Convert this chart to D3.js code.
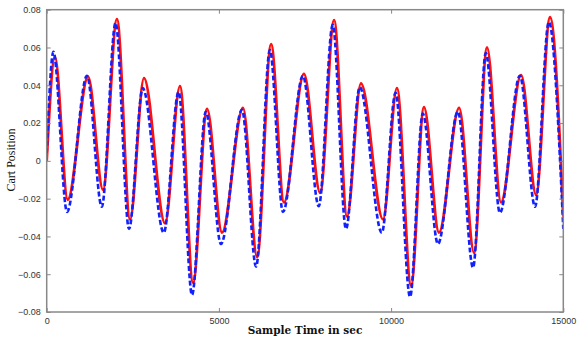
<!DOCTYPE html>
<html><head><meta charset="utf-8">
<script src="https://cdn.jsdelivr.net/npm/d3@7"></script>
<style>body{margin:0;background:#fff}svg{display:block}</style>
</head><body>
<script>
// Data (extrema)
const redTime = [0,240,610,1200,1635,2040,2420,2825,3435,3870,4250,4655,5090,5700,6110,6515,6890,7470,7940,8345,8720,9125,9765,10170,10580,10955,11390,11975,12410,12785,13190,13775,14210,14615,15000];
const redPos  = [0,0.055,-0.0206,0.0445,-0.0153,0.075,-0.031,0.0438,-0.033,0.0396,-0.0645,0.0275,-0.038,0.028,-0.051,0.0618,-0.022,0.046,-0.017,0.0745,-0.0295,0.041,-0.031,0.0385,-0.066,0.0284,-0.038,0.028,-0.0487,0.060,-0.022,0.0454,-0.018,0.076,-0.0296];
const blueTime = [0,195,590,1170,1600,2000,2390,2790,3400,3830,4220,4620,5060,5670,6080,6480,6860,7440,7900,8305,8690,9090,9730,10130,10550,10920,11360,11940,12380,12750,13160,13740,14180,14580,15000];
const bluePos  = [0.004,0.0577,-0.027,0.045,-0.0243,0.073,-0.036,0.0385,-0.038,0.0365,-0.071,0.026,-0.044,0.027,-0.056,0.0586,-0.027,0.045,-0.024,0.072,-0.036,0.039,-0.038,0.036,-0.072,0.025,-0.044,0.026,-0.0565,0.057,-0.0275,0.045,-0.0243,0.0735,-0.036];
const xTicks = [0,5000,10000,15000];
const yTicks = [-0.08,-0.06,-0.04,-0.02,0,0.02,0.04,0.06,0.08];

const W=577,H=340;
const m={l:46.7,r:577-563.3,t:9.7,b:340-312};
const svg=d3.select("body").append("svg").attr("width",W).attr("height",H);
const x=d3.scaleLinear().domain([0,15000]).range([m.l,W-m.r]);
const y=d3.scaleLinear().domain([-0.08,0.08]).range([H-m.b,m.t]);

const red=redTime.map((t,i)=>[t,redPos[i]]);
const blue=blueTime.map((t,i)=>[t,bluePos[i]]);
const line=d3.line().x(d=>x(d[0])).y(d=>y(d[1])).curve(d3.curveMonotoneX);

const clip=svg.append("clipPath").attr("id","c").append("rect")
 .attr("x",m.l).attr("y",m.t).attr("width",x(15000)-m.l).attr("height",y(-0.08)-m.t);

const g=svg.append("g").attr("clip-path","url(#c)");
g.append("path").datum(red).attr("d",line).attr("fill","none").attr("stroke","#ff1010").attr("stroke-width",2.8);
g.append("path").datum(blue).attr("d",line).attr("fill","none").attr("stroke","#1020ff").attr("stroke-width",2.6).attr("stroke-dasharray","5,2.5");

const axCol="#888";
const tf=g=>{g.selectAll("text").attr("fill","#333").style("font-family","Liberation Sans, Arial, sans-serif").style("font-size","9px");g.selectAll("line").attr("stroke",axCol);g.select(".domain").remove();};
svg.append("g").attr("transform",`translate(0,${y(-0.08)})`).call(d3.axisBottom(x).tickValues(xTicks).tickSizeInner(-4).tickSizeOuter(0).tickPadding(6).tickFormat(d3.format("d"))).call(tf);
svg.append("g").attr("transform",`translate(0,${y(0.08)})`).call(d3.axisTop(x).tickValues(xTicks).tickSizeInner(-4).tickSizeOuter(0).tickFormat("")).call(tf);
svg.append("g").attr("transform",`translate(${x(0)},0)`).call(d3.axisLeft(y).tickValues(yTicks).tickSizeInner(-4).tickSizeOuter(0).tickPadding(6).tickFormat(d=>d===0?"0":d3.format(".2f")(d))).call(tf);
svg.append("g").attr("transform",`translate(${x(15000)},0)`).call(d3.axisRight(y).tickValues(yTicks).tickSizeInner(-4).tickSizeOuter(0).tickFormat("")).call(tf);

svg.append("rect").attr("x",m.l).attr("y",m.t).attr("width",x(15000)-m.l).attr("height",y(-0.08)-m.t)
 .attr("fill","none").attr("stroke",axCol).attr("stroke-width",1.5);

svg.append("text").attr("x",(x(0)+x(15000))/2).attr("y",334).attr("text-anchor","middle")
 .style("font-family","DejaVu Serif, serif").style("font-weight","bold").style("font-size","10.5px").attr("fill","#111").text("Sample Time in sec");
svg.append("text").attr("transform",`translate(15,160) rotate(-90)`).attr("text-anchor","middle")
 .style("font-family","Liberation Serif, serif").style("font-size","12px").attr("fill","#111").text("Cart Position");
</script>
</body></html>
